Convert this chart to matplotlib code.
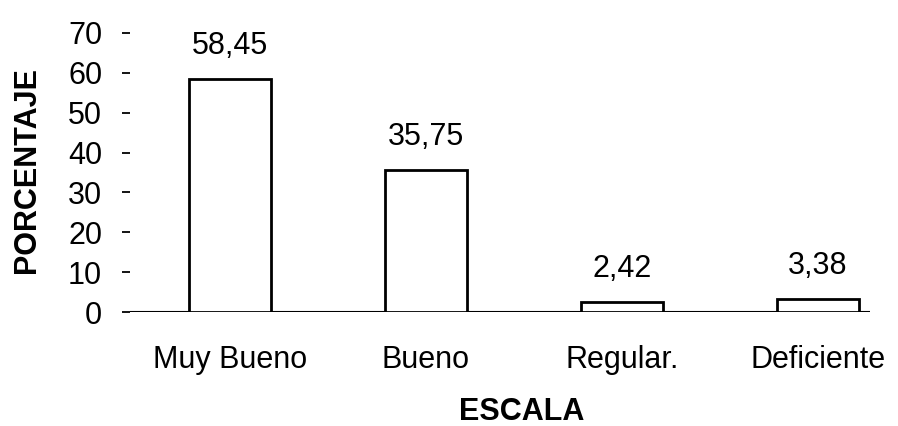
import matplotlib
matplotlib.use("Agg")
import matplotlib.pyplot as plt

categories = ["Muy Bueno", "Bueno", "Regular.", "Deficiente"]
values = [58.45, 35.75, 2.42, 3.38]
value_labels = ["58,45", "35,75", "2,42", "3,38"]
yticks = [0, 10, 20, 30, 40, 50, 60, 70]

plt.rcParams['font.family'] = ['Liberation Sans', 'DejaVu Sans']

W, H = 898, 426
fig = plt.figure(figsize=(W / 100, H / 100), dpi=100)
left, right = 130 / W, 870 / W
bottom, top = (H - 312) / H, (H - 33) / H
ax = fig.add_axes([left, bottom, right - left, top - bottom])

x = list(range(len(categories)))
ax.bar(x, values, width=0.42, facecolor='white', edgecolor='black', linewidth=2.0, zorder=3)
ax.axhline(0, color='black', linewidth=1.5, zorder=2)

for xi, v, lab in zip(x, values, value_labels):
    ax.annotate(lab, (xi, v), xytext=(0, 18), textcoords='offset points',
                ha='center', va='baseline', fontsize=22, color='black')

ax.set_xlim(-0.51, 3.265)
ax.set_ylim(0, 70)
ax.set_yticks(yticks)
ax.set_yticklabels([str(t) for t in yticks], fontsize=22)
ax.set_xticks(x)
ax.set_xticklabels(categories, fontsize=22)
ax.tick_params(axis='y', direction='out', length=6, width=1.3, pad=14, colors='black')
ax.tick_params(axis='x', length=0, pad=24, colors='black')
for s in ax.spines.values():
    s.set_visible(False)

fig.text(522 / W, (H - 412) / H, "ESCALA", ha='center', va='center',
         fontsize=22, fontweight='bold')
fig.text(27 / W, (H - 170) / H, "PORCENTAJE", ha='center', va='center',
         rotation=90, fontsize=22, fontweight='bold')

fig.savefig("out.png", dpi=100, facecolor='white')
